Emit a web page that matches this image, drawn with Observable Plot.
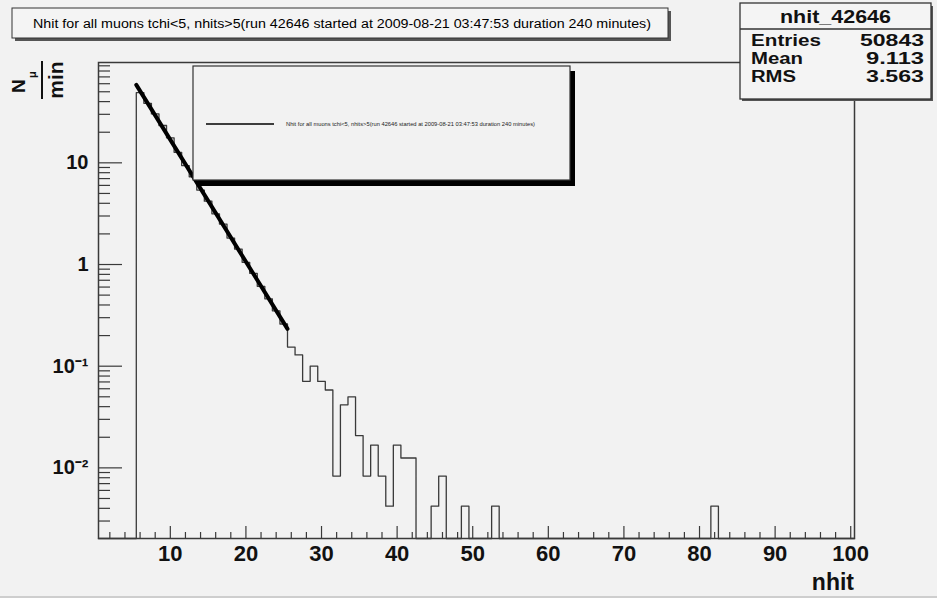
<!DOCTYPE html>
<html><head><meta charset="utf-8">
<script src="https://cdn.jsdelivr.net/npm/d3@7"></script>
<script src="https://cdn.jsdelivr.net/npm/@observablehq/plot@0.6"></script>
<style>
html,body{margin:0;padding:0;background:#f2f2f2;}
#wrap{position:relative;width:937px;height:598px;overflow:hidden;background:#f2f2f2;font-family:"Liberation Sans",Arial,Helvetica,sans-serif;}
#wrap > svg{position:absolute;left:0;top:0;}
</style></head><body><div id="wrap"></div>
<script>
// ---------------- data ----------------
const histNhit = [6,7,8,9,10,11,12,13,14,15,16,17,18,19,20,21,22,23,24,25,
  26,27,28,29,30,31,32,33,34,35,36,37,38,39,40,41,42,45,46,49,53,82];
const histRate = [49.0,38.5,30.3,23.3,17.6,12.7,9.4,7.3,5.4,4.2,3.15,2.5,1.82,1.42,1.05,0.82,0.61,0.46,0.35,0.26,
  0.154,0.129,0.071,0.1,0.0708,0.0583,0.0083,0.0417,0.05,0.0208,0.0083,0.0167,0.0083,0.0042,0.0167,0.0125,0.0125,
  0.0042,0.0083,0.0042,0.0042,0.0042];
const fitNhit = [5.5, 25.5];
const fitRate = [58.5, 0.233];
const xMajorTicks = [10,20,30,40,50,60,70,80,90,100];
const xMinorTicks = [2,4,6,8,12,14,16,18,22,24,26,28,32,34,36,38,42,44,46,48,52,54,56,58,62,64,66,68,72,74,76,78,82,84,86,88,92,94,96,98];
const yMajorTicks = [0.01, 0.1, 1, 10];
const yMajorLabels = ["10\u207B\u00B2", "10\u207B\u00B9", "1", "10"];
const yMinorTicks = [0.003,0.004,0.005,0.006,0.007,0.008,0.009,0.02,0.03,0.04,0.05,0.06,0.07,0.08,0.09,
  0.2,0.3,0.4,0.5,0.6,0.7,0.8,0.9,2,3,4,5,6,7,8,9,20,30,40,50,60,70,80,90];
const titleText = "Nhit for all muons tchi<5, nhits>5(run 42646 started at 2009-08-21 03:47:53 duration 240 minutes)";
const statsName = "nhit_42646";
const statsLabels = ["Entries", "Mean", "RMS"];
const statsValues = ["50843", "9.113", "3.563"];
const xLabel = "nhit";

// ---------------- build tables ----------------
const W = 937, H = 598, mL = 98, mR = 83, mT = 62, mB = 60;
const xDomain = [0.5, 100.5];
const yDomain = [0.00202, 97];
const rateByBin = new Map(histNhit.map((n, i) => [n, histRate[i]]));
const steps = [];
for (let n = 1; n <= 100; n++) {
  const v = rateByBin.get(n) ?? 0;
  const y = v > 0 ? v : yDomain[0];
  steps.push({x: n - 0.5, y}, {x: n + 0.5, y});
}
const fit = fitNhit.map((x, i) => ({x, y: fitRate[i]}));
const yLabelMap = new Map(yMajorTicks.map((t, i) => [t, yMajorLabels[i]]));

// tick lengths (pixels) converted to data units so the ticks point into the frame, ROOT-style
const pxPerX = (W - mL - mR) / (xDomain[1] - xDomain[0]);
const pxPerDecade = (H - mT - mB) / Math.log10(yDomain[1] / yDomain[0]);
const xAt = px => xDomain[0] + px / pxPerX;
const yAt = px => yDomain[0] * Math.pow(10, px / pxPerDecade);

const font = '"Liberation Sans", Arial, Helvetica, sans-serif';
const tickStroke = "#3a3a3a";
const chart = Plot.plot({
  width: W, height: H,
  marginLeft: mL, marginRight: mR, marginTop: mT, marginBottom: mB,
  style: {background: "transparent", fontFamily: font, color: "#111", overflow: "visible"},
  x: {domain: xDomain},
  y: {type: "log", domain: yDomain},
  marks: [
    Plot.line(steps, {x: "x", y: "y", stroke: "#3a3a3a", strokeWidth: 1.3}),
    Plot.line(fit, {x: "x", y: "y", stroke: "#000", strokeWidth: 4}),
    Plot.ruleY(yMinorTicks, {y: d => d, x1: () => xDomain[0], x2: () => xAt(12), stroke: tickStroke, strokeWidth: 1.2}),
    Plot.ruleY(yMajorTicks, {y: d => d, x1: () => xDomain[0], x2: () => xAt(24), stroke: tickStroke, strokeWidth: 1.2}),
    Plot.axisY(yMajorTicks, {tickSize: 0, tickPadding: 10, tickFormat: d => yLabelMap.get(d),
      fontSize: 20, fontWeight: "bold", fill: "#111", label: null}),
    Plot.ruleX(xMinorTicks, {x: d => d, y1: () => yDomain[0], y2: () => yAt(6), stroke: tickStroke, strokeWidth: 1.2}),
    Plot.ruleX(xMajorTicks, {x: d => d, y1: () => yDomain[0], y2: () => yAt(12), stroke: tickStroke, strokeWidth: 1.2}),
    Plot.axisX(xMajorTicks, {tickSize: 0, tickPadding: 7, tickFormat: d => String(d),
      fontSize: 22, fontWeight: "bold", fill: "#111", label: null}),
    Plot.frame({stroke: "#3a3a3a", strokeWidth: 1.5})
  ]
});
const wrap = document.getElementById("wrap");
wrap.appendChild(chart);

// ---------------- decorations (ROOT panes) ----------------
const NS = "http://www.w3.org/2000/svg";
const ov = document.createElementNS(NS, "svg");
ov.setAttribute("width", W); ov.setAttribute("height", H);
ov.setAttribute("style", `font-family:${font}`);
wrap.appendChild(ov);
function el(tag, attrs, text, parent = ov) {
  const e = document.createElementNS(NS, tag);
  for (const k in attrs) e.setAttribute(k, attrs[k]);
  if (text != null) e.textContent = text;
  parent.appendChild(e);
  return e;
}
// title pave
el("rect", {x: 15, y: 11, width: 656, height: 30, fill: "#555"});
el("rect", {x: 12, y: 8, width: 656, height: 30, fill: "#f4f4f4", stroke: "#333", "stroke-width": 1});
el("text", {x: 342, y: 27.5, "text-anchor": "middle", "font-size": 12.5, fill: "#000",
  textLength: 618, lengthAdjust: "spacingAndGlyphs"}, titleText);
// stats pave
el("rect", {x: 742, y: 6, width: 191, height: 95, fill: "#555"});
el("rect", {x: 740, y: 3, width: 191, height: 96, fill: "#f4f4f4", stroke: "#333", "stroke-width": 1.3});
el("line", {x1: 740, x2: 931, y1: 29, y2: 29, stroke: "#333", "stroke-width": 1.3});
el("text", {x: 835.5, y: 23, "text-anchor": "middle", "font-size": 19, "font-weight": "bold", fill: "#111",
  textLength: 111, lengthAdjust: "spacingAndGlyphs"}, statsName);
const labW = [70, 52, 45], valW = [64, 58, 58];
statsLabels.forEach((s, i) => {
  const y = 46 + i * 18;
  el("text", {x: 751, y, "font-size": 16, "font-weight": "bold", fill: "#111",
    textLength: labW[i], lengthAdjust: "spacingAndGlyphs"}, s);
  el("text", {x: 924, y, "text-anchor": "end", "font-size": 16, "font-weight": "bold", fill: "#111",
    textLength: valW[i], lengthAdjust: "spacingAndGlyphs"}, statsValues[i]);
});
// legend pave
el("rect", {x: 198, y: 71, width: 377, height: 115, fill: "#000"});
el("rect", {x: 193, y: 66, width: 377, height: 114, fill: "#f2f2f2", stroke: "#333", "stroke-width": 1.2});
el("line", {x1: 206, x2: 274, y1: 124, y2: 124, stroke: "#000", "stroke-width": 1.5});
el("text", {x: 286, y: 125.5, "font-size": 4.5, fill: "#222", textLength: 249, lengthAdjust: "spacingAndGlyphs"}, titleText);
// y axis title: N_mu / min, rotated
const g = el("g", {});
el("text", {transform: "translate(25,93) rotate(-90)", "font-size": 19, "font-weight": "bold", fill: "#111"}, "N", g);
el("text", {transform: "translate(36,78) rotate(-90)", "font-size": 11, "font-weight": "bold", fill: "#111"}, "\u03BC", g);
el("line", {x1: 42, x2: 42, y1: 61, y2: 99, stroke: "#111", "stroke-width": 2}, null, g);
el("text", {transform: "translate(63,80) rotate(-90)", "text-anchor": "middle", "font-size": 21, "font-weight": "bold", fill: "#111"}, "min", g);
// x axis title
el("text", {x: 854, y: 590, "text-anchor": "end", "font-size": 23, "font-weight": "bold", fill: "#111"}, xLabel);
// canvas bottom edge
el("line", {x1: 0, x2: W, y1: 597, y2: 597, stroke: "#aaa", "stroke-width": 1});
</script></body></html>
